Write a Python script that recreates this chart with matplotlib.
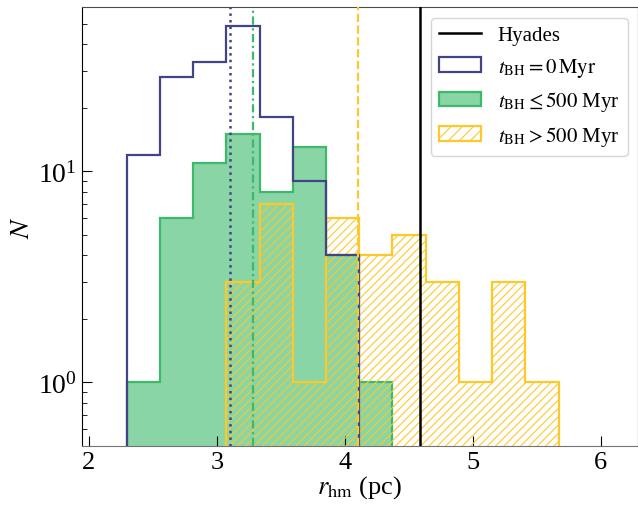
import numpy as np
import matplotlib
matplotlib.use("Agg")
import matplotlib.pyplot as plt
from matplotlib.lines import Line2D
from matplotlib.patches import Patch

plt.rcParams["font.family"] = ["Liberation Serif", "DejaVu Serif"]
plt.rcParams["mathtext.fontset"] = "stix"
plt.rcParams["hatch.linewidth"] = 0.8

# shared bin edges for r_hm (pc)
bin_edges = np.array([2.295, 2.555, 2.814, 3.074, 3.333, 3.593, 3.852,
                      4.112, 4.371, 4.631, 4.890, 5.150, 5.409, 5.669])

# counts per bin (only the non-empty runs)
counts_bh0 = [12, 28, 33, 49, 18, 9, 4]          # bins 0..6
counts_early = [1, 6, 11, 15, 8, 13, 4, 1]      # bins 0..7
counts_late = [3, 7, 1, 6, 4, 5, 3, 1, 3, 1]    # bins 3..12

# median r_hm of each group and the Hyades value
median_bh0 = 3.10
median_early = 3.28
median_late = 4.10
r_hyades = 4.59

blue = "#414487"
green = "#3cb96a"
yellow = "#fcc82c"

fig = plt.figure(figsize=(6.38, 5.06), dpi=100)
ax = fig.add_axes([0.128, 0.117, 0.872, 0.867])
ax.set_yscale("log")

base = 0.1
lw = 1.6
ax.stairs(counts_early, bin_edges[0:9], baseline=base, fill=True,
          facecolor=green, alpha=0.6, edgecolor="none", zorder=1)
ax.stairs(counts_early, bin_edges[0:9], baseline=base, fill=False,
          edgecolor=green, lw=lw, zorder=2)
ax.stairs(counts_late, bin_edges[3:14], baseline=base, fill=False,
          edgecolor=yellow, hatch="////", lw=lw, zorder=3)
ax.stairs(counts_bh0, bin_edges[0:8], baseline=base, fill=False,
          edgecolor=blue, lw=lw, zorder=4)

ax.axvline(median_bh0, color=blue, ls=":", lw=1.8, zorder=5)
ax.axvline(median_early, color=green, lw=1.6, zorder=5,
           dashes=(3.7, 1.6, 1.0, 1.6))
ax.axvline(median_late, color=yellow, ls="--", lw=1.6, zorder=5)
ax.axvline(r_hyades, color="black", ls="-", lw=1.8, zorder=5)

ax.set_xlim(1.943, 6.29)
ax.set_ylim(0.5, 60)
ax.set_xticks([2, 3, 4, 5, 6])
ax.set_xlabel(r"$r_{\rm hm}$ (pc)", fontsize=19, labelpad=0)
ax.set_ylabel(r"$N$", fontsize=20, labelpad=2)
ax.tick_params(which="both", direction="in", labelsize=19)
ax.tick_params(axis="y", labelsize=20)
ax.tick_params(which="major", length=7)
ax.tick_params(which="minor", length=3.5)
ax.spines["bottom"].set_color("0.45")
ax.spines["top"].set_color("0.3")

handles = [
    Line2D([], [], color="black", lw=1.8),
    Patch(facecolor="none", edgecolor=blue, lw=lw),
    Patch(facecolor=(0.235, 0.725, 0.416, 0.6), edgecolor=green, lw=lw),
    Patch(facecolor="none", edgecolor=yellow, hatch="///", lw=lw),
]
labels = [
    "Hyades",
    r"$t_{\rm BH} = 0\,{\rm Myr}$",
    r"$t_{\rm BH} \leq 500$ Myr",
    r"$t_{\rm BH} > 500$ Myr",
]
leg = ax.legend(handles, labels, loc="upper right", fontsize=15,
                frameon=True, fancybox=True)
leg.get_frame().set_edgecolor("0.8")

fig.savefig("out.png", dpi=100)
